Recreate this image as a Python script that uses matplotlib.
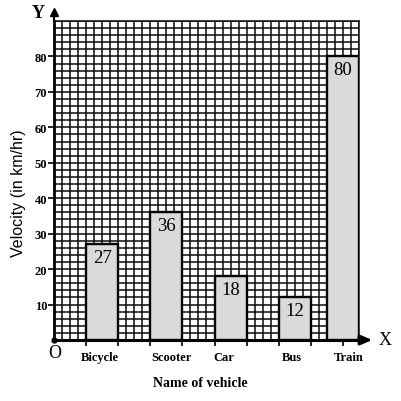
import matplotlib
matplotlib.use("Agg")
import matplotlib.pyplot as plt
import numpy as np

vehicles = ["Bicycle", "Scooter", "Car", "Bus", "Train"]
velocity = [27, 36, 18, 12, 80]
bar_centers = [6, 14, 22, 30, 36]
bar_width = 4
y_ticks = [10, 20, 30, 40, 50, 60, 70, 80]
x_ticks = [4, 8, 12, 16, 20, 24, 28, 32, 36]
label_offsets = [-0.3, 0.7, -0.8, -0.4, 0.7]

serif = ["Liberation Serif", "DejaVu Serif"]
sans = ["Liberation Sans", "DejaVu Sans"]

fig = plt.figure(figsize=(4.02, 4.02), dpi=100)
W = H = 402.0
ax = fig.add_axes([54 / W, 1 - 341 / H, 305 / W, 319 / H])
ax.set_xlim(0, 38)
ax.set_ylim(0, 90)

# grid
ax.set_xticks(np.arange(0, 39, 1), minor=True)
ax.set_yticks(np.arange(0, 91, 2), minor=True)
ax.grid(which="both", color="#0a0a0a", linewidth=1.1, zorder=0)
ax.set_axisbelow(True)

ax.set_xticks(x_ticks)
ax.set_xticklabels([])
ax.set_yticks(y_ticks)
ax.set_yticklabels([str(v) for v in y_ticks], fontfamily=serif,
                   fontweight="bold", fontsize=9)
ax.tick_params(axis="y", which="major", length=4, width=1.2, pad=1, color="black")
ax.tick_params(axis="x", which="major", length=4, width=1.2, color="black", direction="out")
ax.tick_params(which="minor", length=0)

for s in ["top", "right"]:
    ax.spines[s].set_linewidth(1.1)
    ax.spines[s].set_color("#0a0a0a")
ax.spines["left"].set_linewidth(2.0)
ax.spines["bottom"].set_linewidth(2.2)

bars = ax.bar(bar_centers, velocity, width=bar_width, color="#dadada",
              edgecolor="black", linewidth=1.7, zorder=3)
for xc, v in zip(bar_centers, velocity):
    ax.annotate(str(v), (xc, v), xytext=(0, -3.5), textcoords="offset points",
                ha="center", va="top", fontsize=13.5, fontfamily=serif, zorder=4)

for xc, off, name in zip(bar_centers, label_offsets, vehicles):
    ax.text(xc + off, -0.053, name, transform=ax.get_xaxis_transform(),
            ha="center", va="center", fontsize=9, fontweight="bold",
            fontfamily=serif)

# axis arrows
ax.annotate("", xy=(40.0, 0), xytext=(37.5, 0), annotation_clip=False,
            arrowprops=dict(arrowstyle="-|>,head_length=0.7,head_width=0.3",
                            color="black", lw=2.0))
ax.plot([0], [92.5], marker="^", color="black", markersize=6, clip_on=False)
ax.plot([0, 0], [90, 92], color="black", lw=1.5, clip_on=False)
ax.plot([0], [0], marker="o", color="black", markersize=3.5, clip_on=False, zorder=5)

ax.text(41.2, 0, "X", ha="center", va="center", fontsize=13, fontfamily=serif,
        clip_on=False)
ax.text(-2.0, 92.5, "Y", ha="center", va="center", fontsize=13, fontfamily=serif,
        fontweight="bold", clip_on=False)
ax.text(0.1, -3.5, "O", ha="center", va="center", fontsize=13, fontfamily=serif,
        clip_on=False)

fig.text(200 / W, 1 - 384 / H, "Name of vehicle", ha="center", va="center",
         fontsize=10, fontweight="bold", fontfamily=serif)
fig.text(19 / W, 1 - 193 / H, "Velocity (in km/hr)", ha="center", va="center",
         rotation=90, fontsize=11.5, fontfamily=sans)

fig.savefig("out.png", dpi=100)
